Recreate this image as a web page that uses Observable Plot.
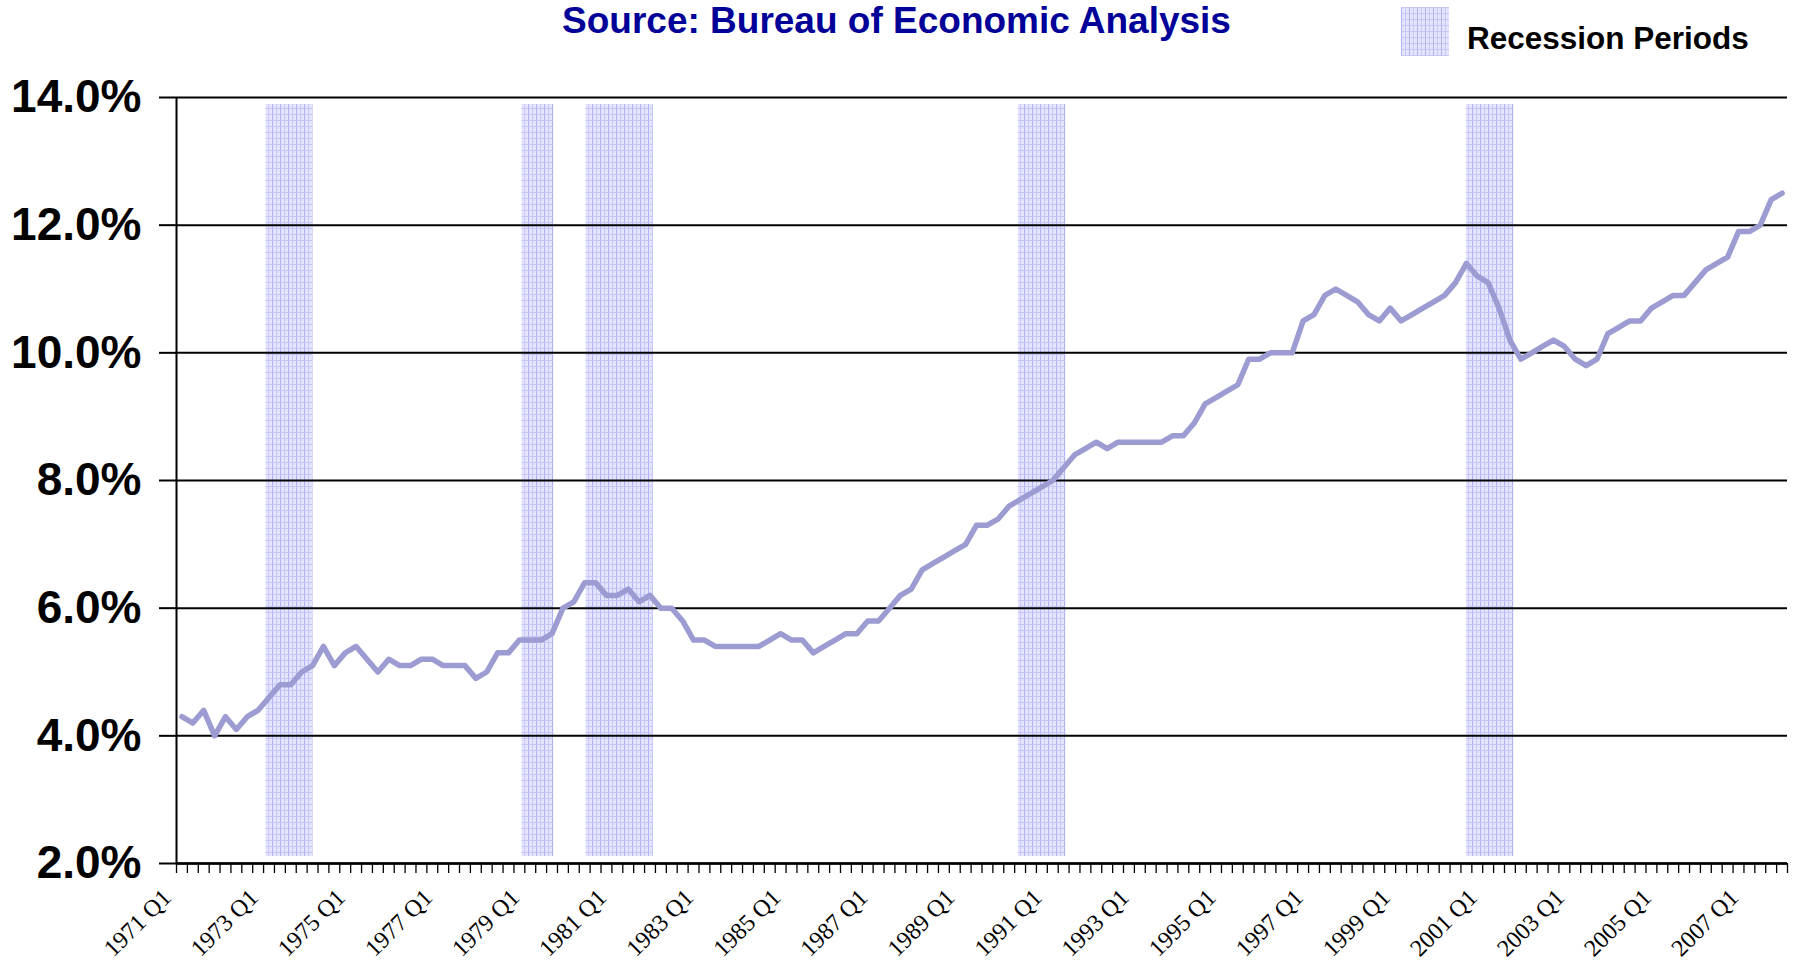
<!DOCTYPE html>
<html><head><meta charset="utf-8">
<script src="https://cdn.jsdelivr.net/npm/d3@7"></script>
<script src="https://cdn.jsdelivr.net/npm/@observablehq/plot@0.6"></script>
<style>
body{margin:0;background:#fff;}
#wrap{position:relative;width:1793px;height:965px;overflow:hidden;background:#fff;}
#title{position:absolute;left:0;width:1793px;text-align:center;top:0;font:bold 37px/42px "Liberation Sans",Arial,sans-serif;color:#000099;white-space:nowrap;}
#legend{position:absolute;left:1401px;top:7px;height:49px;}
#legend svg{position:absolute;left:0;top:0;}
#legend span{position:absolute;left:66px;top:16px;font:bold 31.5px/31.5px "Liberation Sans",Arial,sans-serif;color:#000;white-space:nowrap;}
#chart{position:absolute;left:0;top:0;}
</style></head>
<body>
<div id="wrap">
  <div id="chart"></div>
  <div id="title">Source: Bureau of Economic Analysis</div>
  <div id="legend">
    <svg width="49" height="49"><defs>
      <pattern id="recPatL" width="8" height="6" patternUnits="userSpaceOnUse">
        <rect width="8" height="6" fill="#e4e4fe"/>
        <rect x="0" y="0" width="1" height="6" fill="#b0b0f6"/>
        <rect x="4" y="0" width="1" height="6" fill="#c8c8fa"/>
        <rect x="0" y="0" width="8" height="1" fill="#c6c6fa"/>
      </pattern></defs>
      <rect width="48" height="49" fill="url(#recPatL)"/></svg>
    <span>Recession Periods</span>
  </div>
</div>
<script>
// ---- data ----
const years = d3.range(1971, 2008);
const quarterNames = ["Q1", "Q2", "Q3", "Q4"];
const share = [
  4.3, 4.2, 4.4, 4.0, 4.3, 4.1, 4.3, 4.4, 4.6, 4.8,
  4.8, 5.0, 5.1, 5.4, 5.1, 5.3, 5.4, 5.2, 5.0, 5.2,
  5.1, 5.1, 5.2, 5.2, 5.1, 5.1, 5.1, 4.9, 5.0, 5.3,
  5.3, 5.5, 5.5, 5.5, 5.6, 6.0, 6.1, 6.4, 6.4, 6.2,
  6.2, 6.3, 6.1, 6.2, 6.0, 6.0, 5.8, 5.5, 5.5, 5.4,
  5.4, 5.4, 5.4, 5.4, 5.5, 5.6, 5.5, 5.5, 5.3, 5.4,
  5.5, 5.6, 5.6, 5.8, 5.8, 6.0, 6.2, 6.3, 6.6, 6.7,
  6.8, 6.9, 7.0, 7.3, 7.3, 7.4, 7.6, 7.7, 7.8, 7.9,
  8.0, 8.2, 8.4, 8.5, 8.6, 8.5, 8.6, 8.6, 8.6, 8.6,
  8.6, 8.7, 8.7, 8.9, 9.2, 9.3, 9.4, 9.5, 9.9, 9.9,
  10.0, 10.0, 10.0, 10.5, 10.6, 10.9, 11.0, 10.9, 10.8, 10.6,
  10.5, 10.7, 10.5, 10.6, 10.7, 10.8, 10.9, 11.1, 11.4, 11.2,
  11.1, 10.7, 10.2, 9.9, 10.0, 10.1, 10.2, 10.1, 9.9, 9.8,
  9.9, 10.3, 10.4, 10.5, 10.5, 10.7, 10.8, 10.9, 10.9, 11.1,
  11.3, 11.4, 11.5, 11.9, 11.9, 12.0, 12.4, 12.5
];
const recessionStart = [1972.93, 1978.81, 1980.28, 1990.21, 2000.50];
const recessionEnd   = [1974.01, 1979.54, 1981.83, 1991.30, 2001.59];
const yTicks = [2, 4, 6, 8, 10, 12, 14];
const xTickLabels = ["1971 Q1","1973 Q1","1975 Q1","1977 Q1","1979 Q1","1981 Q1","1983 Q1","1985 Q1","1987 Q1","1989 Q1","1991 Q1","1993 Q1","1995 Q1","1997 Q1","1999 Q1","2001 Q1","2003 Q1","2005 Q1","2007 Q1"];

// ---- tables ----
const quarters = [];
years.forEach(y => quarterNames.forEach((q, i) => quarters.push({label: `${y} ${q}`, t: y + i / 4})));
const data = quarters.map((d, i) => ({...d, v: share[i]}));
const tOf = new Map(quarters.map(d => [d.label, d.t]));
const half = 0.125;
const boundaries = quarters.map(d => d.t - half).concat([quarters[quarters.length - 1].t + half]);
const labelTicks = xTickLabels.map(s => tOf.get(s));
const labelOf = new Map(xTickLabels.map(s => [tOf.get(s), s]));
const recessions = recessionStart.map((s, i) => ({start: s, end: recessionEnd[i]}));
const x0 = boundaries[0], x1 = boundaries[boundaries.length - 1];
const RECESSION_FILL = "#d8d8fa";

const chart = Plot.plot({
  width: 1793, height: 965,
  marginLeft: 176, marginRight: 6, marginTop: 97, marginBottom: 102,
  style: {background: "#fff", color: "#000", fontFamily: "Liberation Sans, Arial, sans-serif", overflow: "visible"},
  x: {domain: [x0, x1], axis: null},
  y: {domain: [2, 14], axis: null},
  marks: [
    Plot.rect(recessions, {x1: "start", x2: "end", y1: () => 2, y2: () => 14, insetTop: 7, insetBottom: 7, fill: RECESSION_FILL}),
    Plot.gridY(yTicks, {stroke: "#000", strokeOpacity: 1, strokeWidth: 2}),
    Plot.axisY(yTicks, {tickSize: 17, tickPadding: 18, strokeWidth: 2, tickFormat: d => d.toFixed(1) + "%", fontSize: 46, fontWeight: "bold", fontFamily: "Liberation Sans, Arial, sans-serif", label: null}),
    Plot.ruleX([x0], {stroke: "#000", strokeWidth: 2}),
    Plot.axisX(boundaries, {tickSize: 10, strokeWidth: 1.3, tickFormat: () => "", label: null}),
    Plot.axisX(labelTicks, {tickSize: 0, tickPadding: 30, tickRotate: -45, tickFormat: d => labelOf.get(d), fontSize: 24, fontFamily: "Liberation Serif, Times New Roman, serif", label: null, dx: -15}),
    Plot.ruleY([2], {stroke: "#000", strokeWidth: 2.5}),
    Plot.line(data, {x: "t", y: "v", stroke: "#9c9cd2", strokeWidth: 5.5, strokeLinejoin: "round"})
  ]
});
document.getElementById("chart").appendChild(chart);

// recession pattern fill
const svgEl = chart.tagName.toLowerCase() === "svg" ? chart : chart.querySelector("svg");
const svg = d3.select(svgEl);
const defs = svg.insert("defs", ":first-child");
const pat = defs.append("pattern").attr("id", "recPat").attr("width", 8).attr("height", 6).attr("patternUnits", "userSpaceOnUse");
pat.append("rect").attr("width", 8).attr("height", 6).attr("fill", "#e4e4fe");
pat.append("rect").attr("x", 0).attr("width", 1).attr("height", 6).attr("fill", "#b0b0f6");
pat.append("rect").attr("x", 4).attr("width", 1).attr("height", 6).attr("fill", "#c8c8fa");
pat.append("rect").attr("width", 8).attr("height", 1).attr("fill", "#c6c6fa");
svg.selectAll("[fill]").filter(function() { return this.getAttribute("fill") === RECESSION_FILL; }).attr("fill", "url(#recPat)");
</script>
</body></html>
